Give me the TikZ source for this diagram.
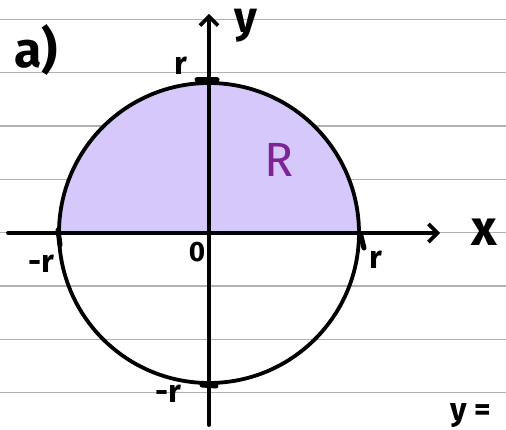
\documentclass[tikz,border=0pt]{standalone}
\usepackage{fontspec}
\setmainfont{Fira Sans}
\usetikzlibrary{arrows.meta}
\definecolor{rule}{RGB}{178,178,178}
\definecolor{lav}{RGB}{214,200,250}
\definecolor{purp}{RGB}{125,35,150}
\tikzset{
  hand/.style={font=\fontsize{32}{34}\selectfont\bfseries, inner sep=0pt, text=black},
  ink/.style={line width=3.8pt, line cap=round, black},
  ruled/.style={rule, line width=1.2pt},
  tick/.style={line width=5pt, line cap=round, black},
  axarrow/.style={-{Straight Barb[length=9pt,width=18pt,line width=3.6pt]}}
}
\begin{document}
\begin{tikzpicture}[x=1pt,y=-1pt]
\useasboundingbox (0,0) rectangle (506,430);
\clip (0,0) rectangle (506,430);
\fill[white] (0,0) rectangle (506,430);
% ruled paper
\foreach \yy in {19.3,72.7,126,179.3,232.7,286,339.3,392.7}
  \draw[ruled] (0,\yy) -- (506,\yy);
% shaded upper half-disc
\coordinate (O) at (209,233);
\fill[lav] (59,233) arc[start angle=180, end angle=360, radius=150] -- cycle;
% circle
\draw[ink] (O) circle[radius=150];
% axes
\coordinate (xl) at (8,233);
\coordinate (xr) at (440,233);
\coordinate (yb) at (209,425);
\coordinate (yt) at (209,14);
\draw[ink,axarrow] (xl) -- (xr);
\draw[ink,axarrow] (yb) -- (yt);
% tick marks
\coordinate (tt1) at (197,80); \coordinate (tt2) at (217,80);
\draw[tick] (tt1) -- (tt2);
\coordinate (tl1) at (58,230); \coordinate (tl2) at (60,245);
\draw[tick] (tl1) -- (tl2);
\coordinate (tr1) at (361,236); \coordinate (tr2) at (364,248);
\draw[tick] (tr1) -- (tr2);
\coordinate (tb1) at (202,385); \coordinate (tb2) at (216,386);
\draw[tick] (tb1) -- (tb2);
% labels
\node[hand, font=\fontsize{50}{52}\selectfont\bfseries] (a) at (36,50) {a)};
\node[hand, font=\fontsize{44}{46}\selectfont\bfseries] (ylab) at (246,26) {y};
\node[hand, font=\fontsize{50}{52}\selectfont\bfseries] (xlab) at (484,232) {x};
\node[hand] (rtop) at (181,66) {r};
\node[hand, font=\fontsize{28}{30}\selectfont\bfseries] (zero) at (197,252) {0};
\node[hand] (mrl) at (41,264) {-r};
\node[hand] (rr) at (376,260) {r};
\node[hand] (mrb) at (168,394) {-r};
\node[hand, text=purp, font=\fontsize{48}{50}\selectfont] (R) at (279,160) {R};
\node[hand, font=\fontsize{32}{34}\selectfont\bfseries, anchor=base west] (yeq) at (450,420) {y =};
\end{tikzpicture}
\end{document}
